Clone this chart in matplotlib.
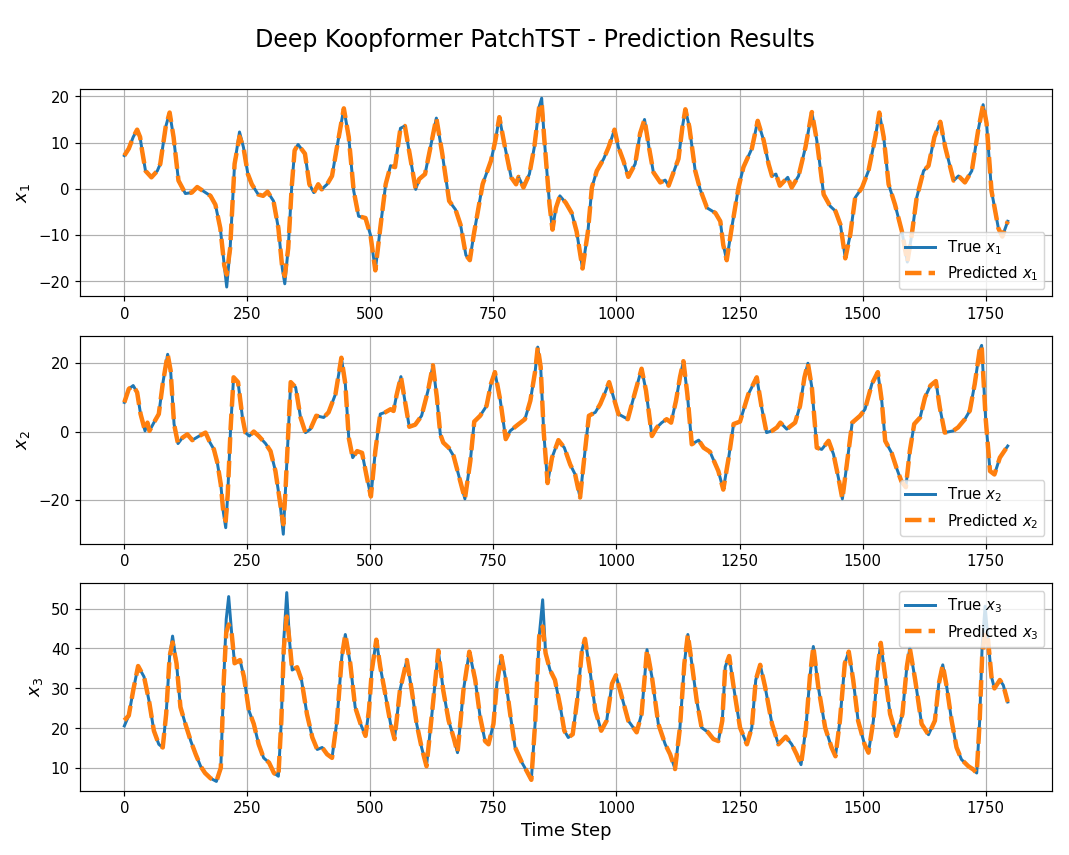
import numpy as np
import matplotlib
matplotlib.use("Agg")
import matplotlib.pyplot as plt

# values (time step, value)
steps_x1 = [0, 9, 18, 26, 32, 36, 43, 55, 67, 73, 84, 92, 100, 110, 124, 137, 148, 158, 175, 185,
            195, 203, 208, 215, 224, 234, 242, 251, 259, 272, 282, 291, 303, 313, 321, 326, 333, 340,
            346, 353, 367, 376, 385, 394, 401, 412, 422, 432, 446, 456, 466, 476, 490, 500, 510, 520,
            531, 541, 550, 561, 570, 582, 592, 599, 611, 622, 634, 646, 660, 673, 683, 694, 702, 710,
            728, 745, 754, 762, 772, 786, 796, 801, 811, 823, 833, 843, 848, 853, 864, 870, 877, 885,
            897, 909, 919, 931, 942, 950, 960, 974, 984, 996, 1004, 1014, 1024, 1038, 1048, 1057, 1066,
            1075, 1089, 1099, 1106, 1116, 1126, 1134, 1140, 1148, 1160, 1170, 1184, 1201, 1211, 1217,
            1224, 1234, 1248, 1258, 1275, 1287, 1299, 1309, 1316, 1324, 1332, 1348, 1356, 1370, 1384,
            1397, 1407, 1421, 1434, 1445, 1455, 1465, 1475, 1485, 1499, 1512, 1526, 1534, 1543, 1553,
            1566, 1580, 1591, 1600, 1610, 1624, 1634, 1646, 1658, 1668, 1685, 1695, 1708, 1722, 1735,
            1745, 1752, 1762, 1776, 1784, 1795]
true_x1 = [7.2, 8.7, 11.2, 12.8, 11.2, 8.3, 3.9, 2.5, 3.9, 5.4, 13.4, 16.5, 11.2, 1.8, -1.0, -0.8, 0.4,
           -0.3, -1.5, -3.4, -8.5, -16.5, -21.2, -12.8, 5.4, 12.3, 9.0, 3.2, 1.0, -1.2, -1.5, -0.6,
           -2.6, -8.5, -17.2, -20.5, -12.8, 0.3, 8.3, 9.6, 7.6, 1.0, -0.8, 1.0, -0.1, 1.0, 2.8, 9.0,
           17.4, 11.2, -0.4, -5.9, -6.3, -9.9, -17.6, -8.5, 1.0, 5.0, 4.7, 13.1, 13.6, 6.1, -0.1, 2.1,
           3.2, 9.0, 15.3, 7.6, -2.6, -4.5, -7.7, -14.3, -15.4, -9.9, 1.0, 6.1, 10.5, 15.5, 9.8, 2.5,
           1.0, 2.6, 0.3, 3.2, 9.0, 17.8, 19.6, 11.2, -3.4, -8.8, -4.1, -1.5, -3.0, -5.2, -9.2, -17.2,
           -9.2, 0.3, 3.9, 6.5, 9.0, 12.8, 9.0, 6.1, 2.6, 5.4, 12.0, 15.0, 9.0, 3.6, 1.4, 1.9, 0.7,
           3.6, 6.5, 13.4, 17.2, 13.4, 3.9, -0.1, -4.1, -5.2, -7.0, -12.1, -15.4, -8.5, 0.3, 4.7, 8.7,
           14.7, 10.5, 5.4, 2.8, 3.2, 0.7, 2.5, 0.3, 2.8, 9.0, 16.6, 10.5, -1.2, -3.7, -4.8, -7.7,
           -15.0, -9.9, -1.9, 0.3, 3.9, 11.2, 16.5, 11.2, 1.0, -3.4, -9.2, -15.8, -9.9, -1.9, 3.9,
           5.0, 11.2, 14.5, 9.0, 1.8, 2.8, 1.4, 3.9, 12.7, 18.2, 14.2, -0.4, -8.5, -10.3, -7.0]
# where the prediction differs visibly from the truth
pred_x1_fix = {208: -18.5, 326: -18.8, 234: 11.3, 848: 18.6}

steps_x2 = [0, 9, 18, 26, 33, 42, 47, 51, 60, 70, 78, 88, 94, 101, 109, 118, 128, 138, 152, 165, 174,
            182, 189, 196, 201, 206, 210, 216, 222, 231, 240, 246, 254, 263, 273, 287, 297, 307, 316,
            323, 327, 333, 338, 348, 358, 368, 378, 390, 405, 415, 429, 441, 449, 456, 464, 473, 483,
            493, 501, 510, 520, 530, 541, 547, 553, 562, 570, 579, 591, 604, 617, 627, 635, 642, 648,
            659, 669, 679, 692, 703, 711, 723, 736, 745, 753, 764, 775, 784, 797, 814, 825, 835, 840,
            846, 852, 860, 869, 882, 894, 906, 916, 926, 936, 944, 957, 967, 977, 985, 994, 1004, 1023,
            1035, 1051, 1060, 1072, 1082, 1092, 1102, 1111, 1121, 1129, 1136, 1144, 1153, 1167, 1177,
            1190, 1207, 1217, 1228, 1238, 1251, 1268, 1285, 1295, 1305, 1316, 1326, 1333, 1346, 1363,
            1373, 1382, 1389, 1397, 1407, 1417, 1431, 1441, 1451, 1459, 1468, 1479, 1495, 1505, 1519,
            1531, 1539, 1546, 1559, 1569, 1579, 1588, 1596, 1605, 1617, 1627, 1638, 1649, 1657, 1667,
            1684, 1694, 1708, 1718, 1728, 1738, 1742, 1750, 1759, 1768, 1779, 1795]
true_x2 = [8.5, 12.4, 13.4, 11.4, 5.1, 0.2, 2.6, 0.2, 2.6, 5.1, 13.9, 22.5, 17.8, 2.2, -3.5, -1.8, -0.8,
           -2.5, -1.3, -0.3, -3.2, -5.2, -9.1, -15.4, -23.3, -28.0, -18.4, 1.2, 15.8, 14.4, 4.1, -0.3,
           -1.3, 0.0, -1.3, -3.5, -5.7, -11.5, -20.3, -29.9, -18.4, -0.8, 14.4, 12.9, 4.1, -0.3, 0.7,
           4.6, 4.1, 5.6, 10.9, 21.5, 13.9, -1.8, -7.6, -5.7, -6.2, -13.5, -18.9, -5.7, 5.1, 5.6, 6.5,
           6.0, 10.5, 16.0, 9.0, 1.4, 2.0, 4.6, 11.9, 19.3, 10.0, -0.8, -3.2, -4.7, -7.1, -12.5, -19.6,
           -8.6, 2.9, 4.6, 7.5, 13.9, 17.3, 9.0, -2.2, 0.2, 1.7, 3.6, 9.0, 17.8, 24.6, 18.8, 0.2, -15.0,
           -7.6, -2.5, -4.7, -9.6, -12.5, -19.2, -5.7, 4.6, 5.6, 8.0, 11.4, 14.4, 10.0, 5.1, 3.6, 10.0,
           18.3, 11.9, -1.3, 1.2, 2.6, 3.6, 2.6, 9.0, 15.8, 20.5, 10.9, -3.7, -2.5, -4.7, -5.9, -11.5,
           -16.9, -7.6, 2.2, 2.9, 10.9, 15.8, 7.0, -0.3, 0.2, 1.2, 2.6, 0.7, 2.6, 7.5, 15.8, 19.9, 12.9,
           -4.7, -5.2, -2.7, -6.6, -13.5, -19.6, -9.6, 2.6, 4.6, 6.5, 13.9, 17.3, 9.0, -2.7, -6.2,
           -10.6, -14.5, -16.2, -5.7, 2.2, 4.1, 10.0, 13.4, 14.7, 7.0, -0.3, 0.2, 1.2, 3.6, 6.1, 13.9,
           23.7, 25.1, 4.1, -11.5, -12.5, -7.6, -4.2]
pred_x2_fix = {206: -26.0, 323: -27.0}

steps_x3 = [0, 9, 18, 28, 40, 50, 60, 70, 78, 85, 92, 98, 106, 114, 124, 135, 145, 155, 164, 175, 187,
            196, 202, 207, 212, 218, 224, 235, 243, 253, 263, 273, 283, 294, 304, 313, 319, 324, 330,
            336, 341, 351, 360, 371, 382, 392, 402, 412, 422, 432, 442, 449, 459, 469, 480, 490, 497,
            503, 512, 520, 530, 541, 549, 560, 574, 584, 594, 604, 614, 625, 638, 648, 659, 669, 677,
            689, 701, 713, 723, 733, 740, 750, 757, 766, 774, 784, 794, 808, 818, 827, 835, 843, 850,
            856, 865, 875, 886, 894, 902, 911, 921, 930, 936, 946, 957, 969, 980, 991, 999, 1011, 1024,
            1041, 1051, 1062, 1072, 1085, 1099, 1109, 1119, 1129, 1138, 1145, 1153, 1163, 1173, 1186,
            1197, 1207, 1215, 1221, 1229, 1238, 1251, 1265, 1275, 1283, 1292, 1302, 1316, 1329, 1344,
            1356, 1366, 1375, 1385, 1393, 1400, 1410, 1424, 1437, 1445, 1454, 1464, 1472, 1481, 1491,
            1504, 1512, 1522, 1531, 1537, 1546, 1556, 1569, 1581, 1590, 1596, 1607, 1620, 1634, 1647,
            1655, 1663, 1671, 1681, 1691, 1701, 1715, 1725, 1732, 1738, 1743, 1749, 1755, 1762, 1768,
            1779, 1786, 1795]
true_x3 = [20.6, 23.2, 29.5, 35.6, 32.9, 27.0, 19.4, 16.0, 15.2, 23.6, 38.0, 43.1, 36.3, 25.3, 21.1,
           16.8, 13.5, 10.5, 8.8, 7.5, 6.7, 10.1, 32.1, 47.3, 53.0, 43.9, 36.3, 37.1, 32.9, 24.5, 21.1,
           16.0, 12.6, 11.4, 8.8, 8.0, 21.9, 42.2, 54.0, 41.4, 34.6, 35.3, 32.1, 23.6, 17.7, 14.7, 15.2,
           13.5, 12.6, 21.9, 38.0, 43.5, 36.3, 25.3, 21.1, 18.1, 24.5, 34.6, 42.2, 35.4, 28.7, 21.1,
           17.3, 29.5, 37.1, 29.5, 21.1, 15.2, 10.5, 23.6, 39.5, 29.5, 21.9, 17.7, 13.9, 29.5, 39.2,
           32.1, 22.8, 16.8, 16.0, 21.1, 31.2, 38.1, 32.9, 23.6, 15.2, 11.4, 9.2, 7.1, 21.9, 43.1, 52.2,
           38.8, 34.6, 32.1, 25.3, 19.4, 17.7, 18.5, 27.8, 39.7, 42.4, 34.6, 24.5, 19.4, 21.9, 31.2,
           33.3, 27.8, 21.9, 19.0, 23.6, 39.7, 32.9, 21.1, 16.0, 13.5, 9.8, 20.2, 36.3, 43.5, 36.3,
           27.0, 20.2, 19.0, 17.3, 16.8, 21.9, 35.4, 38.1, 30.4, 20.2, 16.0, 20.2, 32.1, 35.9, 30.4,
           21.1, 16.0, 17.9, 16.0, 13.5, 10.9, 20.2, 32.9, 40.5, 30.4, 20.2, 15.2, 13.0, 21.9, 36.3,
           39.2, 32.1, 21.9, 16.0, 13.9, 21.9, 35.4, 41.4, 32.9, 23.6, 18.1, 23.6, 35.4, 40.1, 32.1,
           21.1, 18.4, 21.9, 31.2, 35.9, 30.4, 21.9, 15.2, 12.2, 10.5, 9.7, 8.8, 21.9, 40.5, 50.6, 42.2,
           32.9, 30.0, 32.1, 30.8, 26.6]
pred_x3_fix = {0: 22.0, 98: 41.5, 207: 44.0, 212: 46.0, 324: 40.0, 330: 48.0, 850: 45.5,
               1743: 38.0, 1749: 44.0}


def with_fixes(steps, values, fixes):
    out = list(values)
    for s, v in fixes.items():
        out[steps.index(s)] = v
    return out


series = [
    (steps_x1, true_x1, with_fixes(steps_x1, true_x1, pred_x1_fix), 'lower right'),
    (steps_x2, true_x2, with_fixes(steps_x2, true_x2, pred_x2_fix), 'lower right'),
    (steps_x3, true_x3, with_fixes(steps_x3, true_x3, pred_x3_fix), 'upper right'),
]

fig, axes = plt.subplots(3, 1, figsize=(10, 8), dpi=106.9)
fig.subplots_adjust(left=0.075, right=0.984, top=0.896, bottom=0.075, hspace=0.19)

for i, (ax, (st, tv, pv, loc)) in enumerate(zip(axes, series)):
    ax.plot(st, tv, color='C0', lw=2, label=f'True $x_{i + 1}$')
    ax.plot(st, pv, color='C1', lw=3, ls='--', label=f'Predicted $x_{i + 1}$')
    ax.set_ylabel(f'$x_{i + 1}$', fontsize=12)
    ax.grid(True)
    ax.legend(loc=loc)

axes[-1].set_xlabel('Time Step', fontsize=12)
fig.suptitle('Deep Koopformer PatchTST - Prediction Results', fontsize=16, y=0.967)

fig.savefig('out.png', dpi=106.9)
